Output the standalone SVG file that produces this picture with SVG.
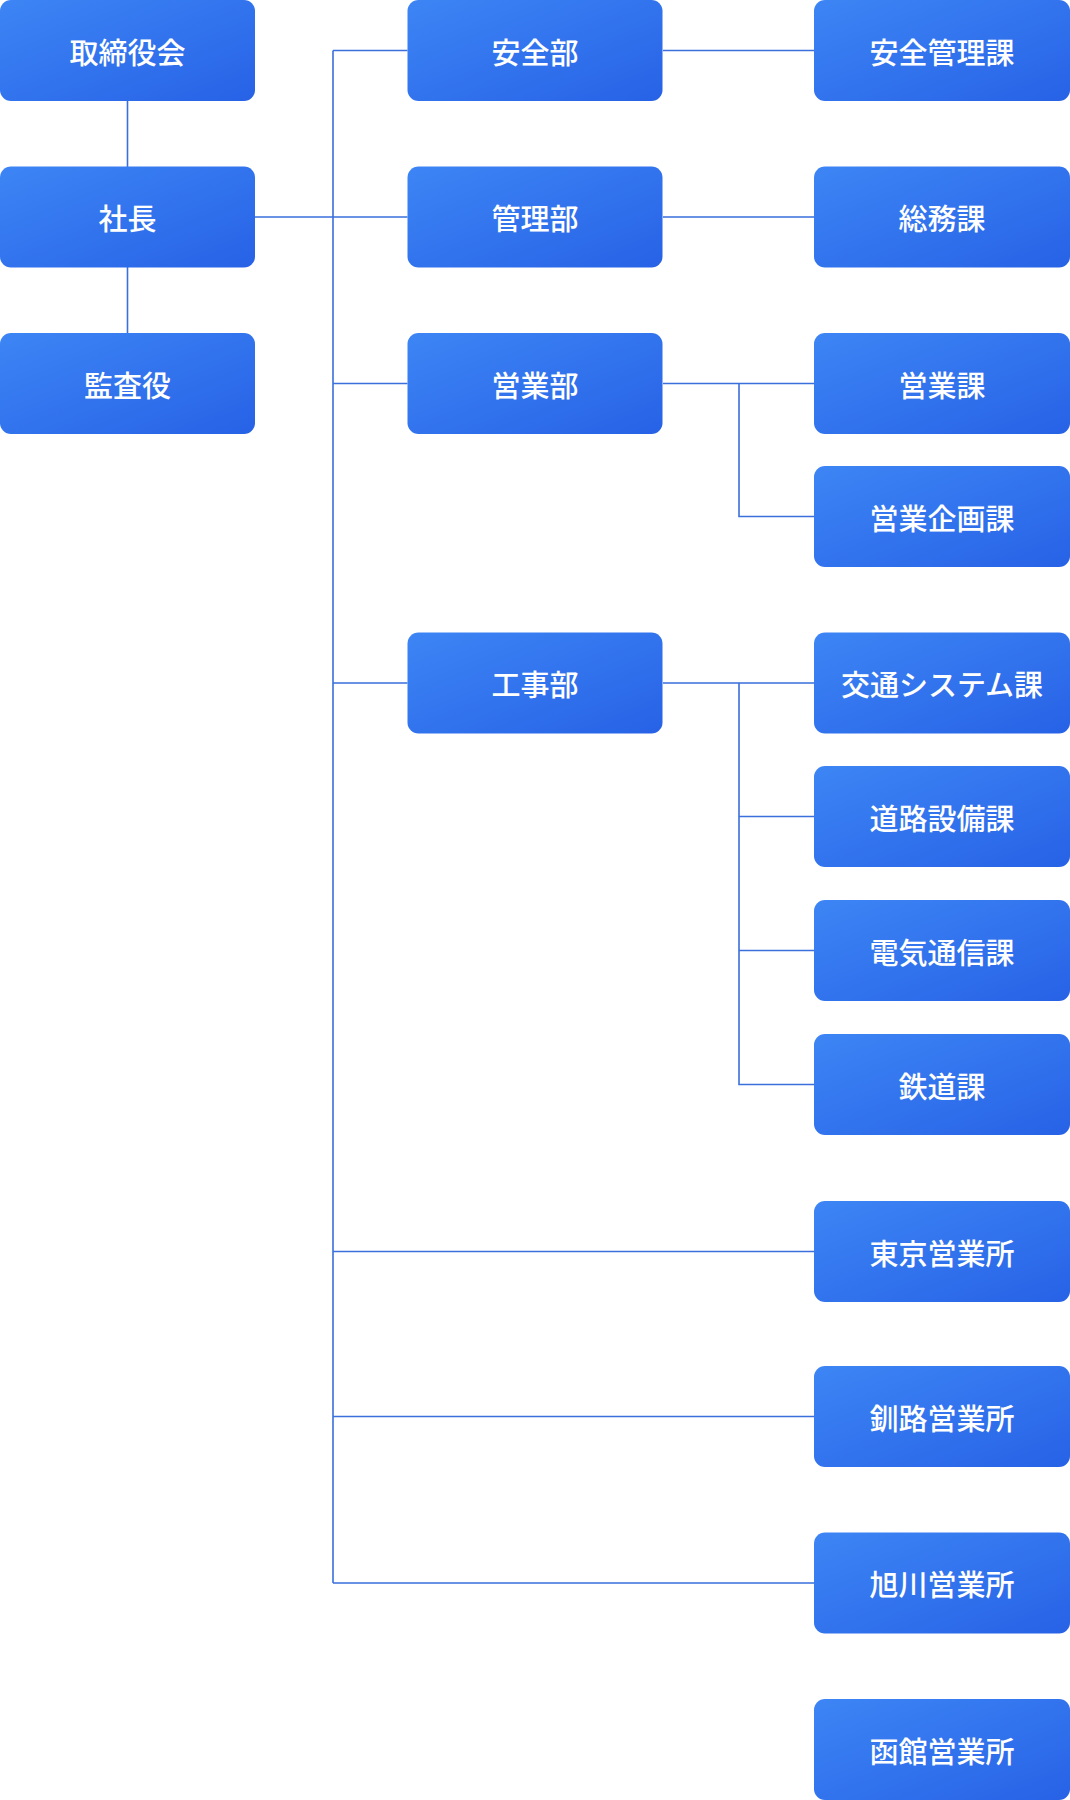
<svg xmlns="http://www.w3.org/2000/svg" width="1070" height="1800" viewBox="0 0 1070 1800">
<defs>
<linearGradient id="g" x1="0" y1="0" x2="1" y2="1">
<stop offset="0" stop-color="#3d85f5"/><stop offset="1" stop-color="#2762e6"/>
</linearGradient>
<style>
rect{fill:url(#g)}
text{fill:#fff;font-family:"Noto Sans CJK JP",sans-serif;font-size:29px;font-weight:500;text-anchor:middle;dominant-baseline:central}
.c{stroke:#3a6fdc;stroke-width:1.6;fill:none}
</style>
</defs>
<g id="connectors" class="c">
<path d="M127.5 101V333"/>
<path d="M255 217H407.5"/>
<path d="M333 50.5V1583"/>
<path d="M333 50.5H407.5M333 383.5H407.5M333 683H407.5"/>
<path d="M663 50.5H814M663 217H814"/>
<path d="M663 383.5H814M739 383.5V516.5H814"/>
<path d="M663 683H814M739 683V1084.5H814M739 816.5H814M739 950.5H814"/>
<path d="M333 1251.5H814M333 1416.5H814M333 1583H814"/>
</g>
<g id="n1"><rect x="0" y="0" width="255" height="101" rx="11"/><text x="127.5" y="50.5">取締役会</text></g>
<g id="n2"><rect x="0" y="166.5" width="255" height="101" rx="11"/><text x="127.5" y="217">社長</text></g>
<g id="n3"><rect x="0" y="333" width="255" height="101" rx="11"/><text x="127.5" y="383.5">監査役</text></g>
<g id="n4"><rect x="407.5" y="0" width="255" height="101" rx="11"/><text x="535" y="50.5">安全部</text></g>
<g id="n5"><rect x="407.5" y="166.5" width="255" height="101" rx="11"/><text x="535" y="217">管理部</text></g>
<g id="n6"><rect x="407.5" y="333" width="255" height="101" rx="11"/><text x="535" y="383.5">営業部</text></g>
<g id="n7"><rect x="407.5" y="632.5" width="255" height="101" rx="11"/><text x="535" y="683">工事部</text></g>
<g id="n8"><rect x="814" y="0" width="256" height="101" rx="11"/><text x="942" y="50.5">安全管理課</text></g>
<g id="n9"><rect x="814" y="166.5" width="256" height="101" rx="11"/><text x="942" y="217">総務課</text></g>
<g id="n10"><rect x="814" y="333" width="256" height="101" rx="11"/><text x="942" y="383.5">営業課</text></g>
<g id="n11"><rect x="814" y="466" width="256" height="101" rx="11"/><text x="942" y="516.5">営業企画課</text></g>
<g id="n12"><rect x="814" y="632.5" width="256" height="101" rx="11"/><text x="942" y="683">交通システム課</text></g>
<g id="n13"><rect x="814" y="766" width="256" height="101" rx="11"/><text x="942" y="816.5">道路設備課</text></g>
<g id="n14"><rect x="814" y="900" width="256" height="101" rx="11"/><text x="942" y="950.5">電気通信課</text></g>
<g id="n15"><rect x="814" y="1034" width="256" height="101" rx="11"/><text x="942" y="1084.5">鉄道課</text></g>
<g id="n16"><rect x="814" y="1201" width="256" height="101" rx="11"/><text x="942" y="1251.5">東京営業所</text></g>
<g id="n17"><rect x="814" y="1366" width="256" height="101" rx="11"/><text x="942" y="1416.5">釧路営業所</text></g>
<g id="n18"><rect x="814" y="1532.5" width="256" height="101" rx="11"/><text x="942" y="1583">旭川営業所</text></g>
<g id="n19"><rect x="814" y="1699" width="256" height="101" rx="11"/><text x="942" y="1749.5">函館営業所</text></g>
</svg>
